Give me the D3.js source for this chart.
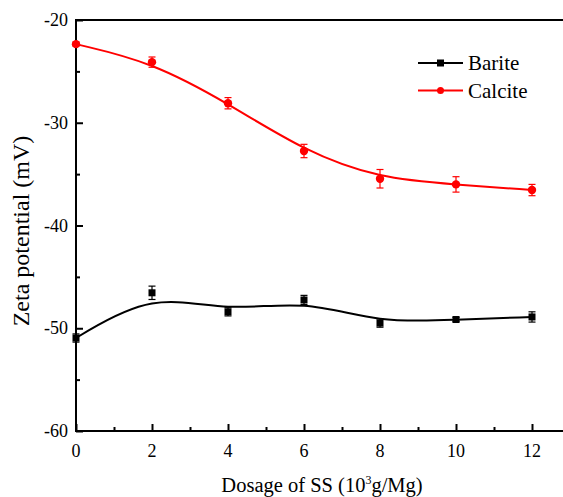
<!DOCTYPE html>
<html>
<head>
<meta charset="utf-8">
<script src="https://cdn.jsdelivr.net/npm/d3@7"></script>
<style>
  body { margin: 0; background: #fff; }
  text { font-family: "Liberation Serif", "Times New Roman", serif; }
</style>
</head>
<body>
<div id="chart"></div>
<script>
(function(){
    var width = 563,
        height = 497;

    // data
    var dosage = [0, 2, 4, 6, 8, 10, 12];
    var barite = [-50.95, -46.55, -48.4, -47.25, -49.5, -49.15, -48.9];
    var bariteErr = [0.4, 0.65, 0.4, 0.45, 0.4, 0.2, 0.5];
    var calcite = [-22.35, -24.1, -28.1, -32.75, -35.45, -36.0, -36.55];
    var calciteErr = [0.2, 0.5, 0.55, 0.65, 0.9, 0.75, 0.55];
    var xTicks = [0, 2, 4, 6, 8, 10, 12];
    var yTicks = [-20, -30, -40, -50, -60];

    var left = 76, top = 20, bottom = 431;

    var svg = d3.select("#chart")
      .append("svg")
      .attr("width", width)
      .attr("height", height)

    var x = d3.scaleLinear().domain([0, 13]).range([left, left + 13 * 38.0])
    var y = d3.scaleLinear().domain([-60, -20]).range([bottom, top])

    // frame
    svg.append("rect")
      .attr("x", x(0)).attr("y", y(-20))
      .attr("width", x(13) - x(0)).attr("height", y(-60) - y(-20))
      .attr("fill", "none").attr("stroke", "#000").attr("stroke-width", 2)

    // x axis ticks (inward)
    var xAxis = d3.axisTop(x).tickValues(xTicks).tickSize(7).tickFormat("")
    svg.append("g").attr("transform", "translate(0," + bottom + ")").call(xAxis)
      .call(function(g){ g.select(".domain").remove() })
      .selectAll("line").attr("stroke-width", 2)
    var xMinor = d3.axisTop(x).tickValues([1, 3, 5, 7, 9, 11]).tickSize(4).tickFormat("")
    svg.append("g").attr("transform", "translate(0," + bottom + ")").call(xMinor)
      .call(function(g){ g.select(".domain").remove() })
      .selectAll("line").attr("stroke-width", 2)

    svg.selectAll(".xlab")
      .data(xTicks)
      .enter().append("text")
      .attr("class", "xlab")
      .attr("x", function(d){ return x(d) })
      .attr("y", 457)
      .attr("text-anchor", "middle")
      .attr("font-size", 18)
      .text(function(d){ return d })

    // y axis ticks (inward)
    var yAxis = d3.axisRight(y).tickValues(yTicks).tickSize(7).tickFormat("")
    svg.append("g").attr("transform", "translate(" + left + ",0)").call(yAxis)
      .call(function(g){ g.select(".domain").remove() })
      .selectAll("line").attr("stroke-width", 2)
    var yMinor = d3.axisRight(y).tickValues([-25, -35, -45, -55]).tickSize(4).tickFormat("")
    svg.append("g").attr("transform", "translate(" + left + ",0)").call(yMinor)
      .call(function(g){ g.select(".domain").remove() })
      .selectAll("line").attr("stroke-width", 2)

    svg.selectAll(".ylab")
      .data(yTicks)
      .enter().append("text")
      .attr("class", "ylab")
      .attr("x", 68)
      .attr("y", function(d){ return y(d) + 6 })
      .attr("text-anchor", "end")
      .attr("font-size", 18)
      .text(function(d){ return d })

    // axis titles
    var xt = svg.append("text")
      .attr("x", 322).attr("y", 492)
      .attr("text-anchor", "middle")
      .attr("font-size", 20.5)
    xt.append("tspan").text("Dosage of SS (10")
    xt.append("tspan").attr("font-size", 12).attr("dy", -8).text("3")
    xt.append("tspan").attr("dy", 8).text("g/Mg)")

    svg.append("text")
      .attr("transform", "translate(29,231) rotate(-90)")
      .attr("text-anchor", "middle")
      .attr("font-size", 24)
      .text("Zeta potential (mV)")

    var line = d3.line()
      .x(function(d){ return x(d[0]) })
      .y(function(d){ return y(d[1]) })
      .curve(d3.curveBasis)

    var series = [
      { name: "Barite", vals: barite, err: bariteErr, color: "#000", shape: "square" },
      { name: "Calcite", vals: calcite, err: calciteErr, color: "#ff0000", shape: "circle" }
    ]

    series.forEach(function(s){
      var pts = dosage.map(function(d, i){ return [d, s.vals[i], s.err[i]] })

      svg.append("path")
        .datum(pts)
        .attr("d", line)
        .attr("fill", "none")
        .attr("stroke", s.color)
        .attr("stroke-width", 2)

      var eb = svg.append("g").attr("stroke", s.color).attr("stroke-width", 1.2)
      pts.forEach(function(p){
        var cx = x(p[0])
        eb.append("line").attr("x1", cx).attr("x2", cx).attr("y1", y(p[1] - p[2])).attr("y2", y(p[1] + p[2]))
        eb.append("line").attr("x1", cx - 3.5).attr("x2", cx + 3.5).attr("y1", y(p[1] - p[2])).attr("y2", y(p[1] - p[2]))
        eb.append("line").attr("x1", cx - 3.5).attr("x2", cx + 3.5).attr("y1", y(p[1] + p[2])).attr("y2", y(p[1] + p[2]))
      })

      if (s.shape == "square") {
        svg.selectAll(".sq")
          .data(pts)
          .enter().append("rect")
          .attr("x", function(d){ return x(d[0]) - 3.5 })
          .attr("y", function(d){ return y(d[1]) - 3.5 })
          .attr("width", 7).attr("height", 7)
          .attr("fill", s.color)
      } else {
        svg.selectAll(".ci")
          .data(pts)
          .enter().append("circle")
          .attr("cx", function(d){ return x(d[0]) })
          .attr("cy", function(d){ return y(d[1]) })
          .attr("r", 4.2)
          .attr("fill", s.color)
      }
    })

    // legend
    var legend = svg.append("g")
    series.forEach(function(s, i){
      var ly = 63 + i * 27.5
      legend.append("line")
        .attr("x1", 418).attr("x2", 463).attr("y1", ly).attr("y2", ly)
        .attr("stroke", s.color).attr("stroke-width", 2)
      if (s.shape == "square") {
        legend.append("rect").attr("x", 437).attr("y", ly - 3.5).attr("width", 7).attr("height", 7).attr("fill", s.color)
      } else {
        legend.append("circle").attr("cx", 440.5).attr("cy", ly).attr("r", 3.5).attr("fill", s.color)
      }
      legend.append("text")
        .attr("x", 468).attr("y", ly + 7)
        .attr("font-size", 21)
        .text(s.name)
    })
})();
</script>
</body>
</html>
